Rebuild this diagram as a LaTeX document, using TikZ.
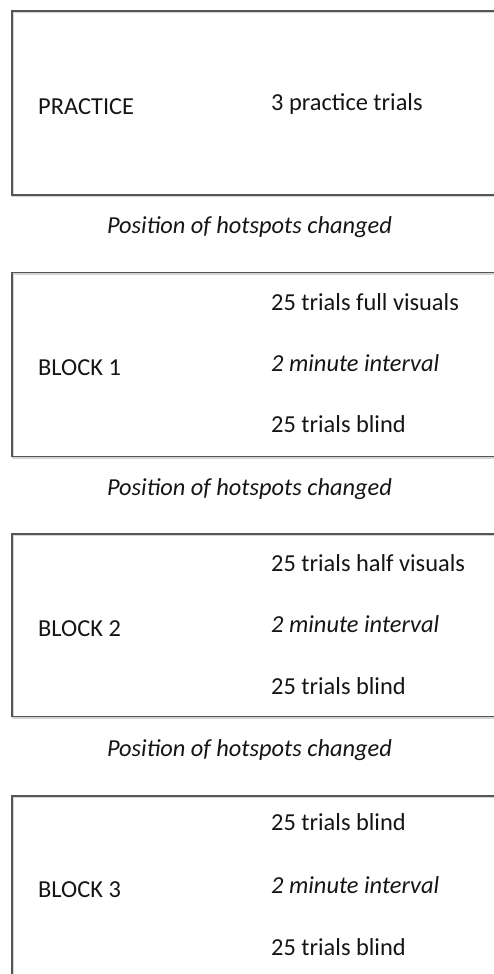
\documentclass[tikz,border=0pt]{standalone}
\usepackage{fontspec}
\setmainfont{Carlito}
\definecolor{boxline}{HTML}{555555}
\definecolor{shadowc}{HTML}{D4D4D4}
\definecolor{txt}{HTML}{151515}
\begin{document}
\begin{tikzpicture}[x=1pt,y=-1pt,
  blockbox/.style={draw=boxline,line width=1.3pt},
  boxshadow/.style={draw=shadowc,line width=1.6pt},
  lbl/.style={anchor=base west,inner sep=0pt,text=txt,font=\fontsize{24.4}{28}\selectfont},
  ilbl/.style={lbl,font=\fontsize{24.4}{28}\selectfont\itshape},
  note/.style={anchor=base,inner sep=0pt,text=txt,font=\fontsize{24.4}{28}\selectfont\itshape}]
\useasboundingbox (0,0) rectangle (494,974);
\clip (0,0) rectangle (494,974);
% boxes
\foreach \t/\b in {11/195,272.7/456.7,534/716.7,796/1000}{
  \draw[boxshadow] (12.8,\t+1.2) rectangle (500,\b+1.2);
  \draw[blockbox] (12,\t) rectangle (494.5,\b);
}
% practice
\node[lbl] (pr) at (38,114) {PRACTICE};
\node[lbl] (pt) at (271,110) {3 practice trials};
\node[note] (n1) at (249.5,233) {Position of hotspots changed};
% block 1
\node[lbl] (bl1) at (38,375) {BLOCK 1};
\node[lbl] (b1a) at (271,310) {25 trials full visuals};
\node[ilbl] (b1b) at (271,371) {2 minute interval};
\node[lbl] (b1c) at (271,432.7) {25 trials blind};
\node[note] (n2) at (249.5,495) {Position of hotspots changed};
% block 2
\node[lbl] (bl2) at (38,636.3) {BLOCK 2};
\node[lbl] (b2a) at (271,571.3) {25 trials half visuals};
\node[ilbl] (b2b) at (271,632.3) {2 minute interval};
\node[lbl] (b2c) at (271,694) {25 trials blind};
\node[note] (n3) at (249.5,756.7) {Position of hotspots changed};
% block 3
\node[lbl] (bl3) at (38,897.3) {BLOCK 3};
\node[lbl] (b3a) at (271,830.7) {25 trials blind};
\node[ilbl] (b3b) at (271,893.3) {2 minute interval};
\node[lbl] (b3c) at (271,955) {25 trials blind};
\end{tikzpicture}
\end{document}
